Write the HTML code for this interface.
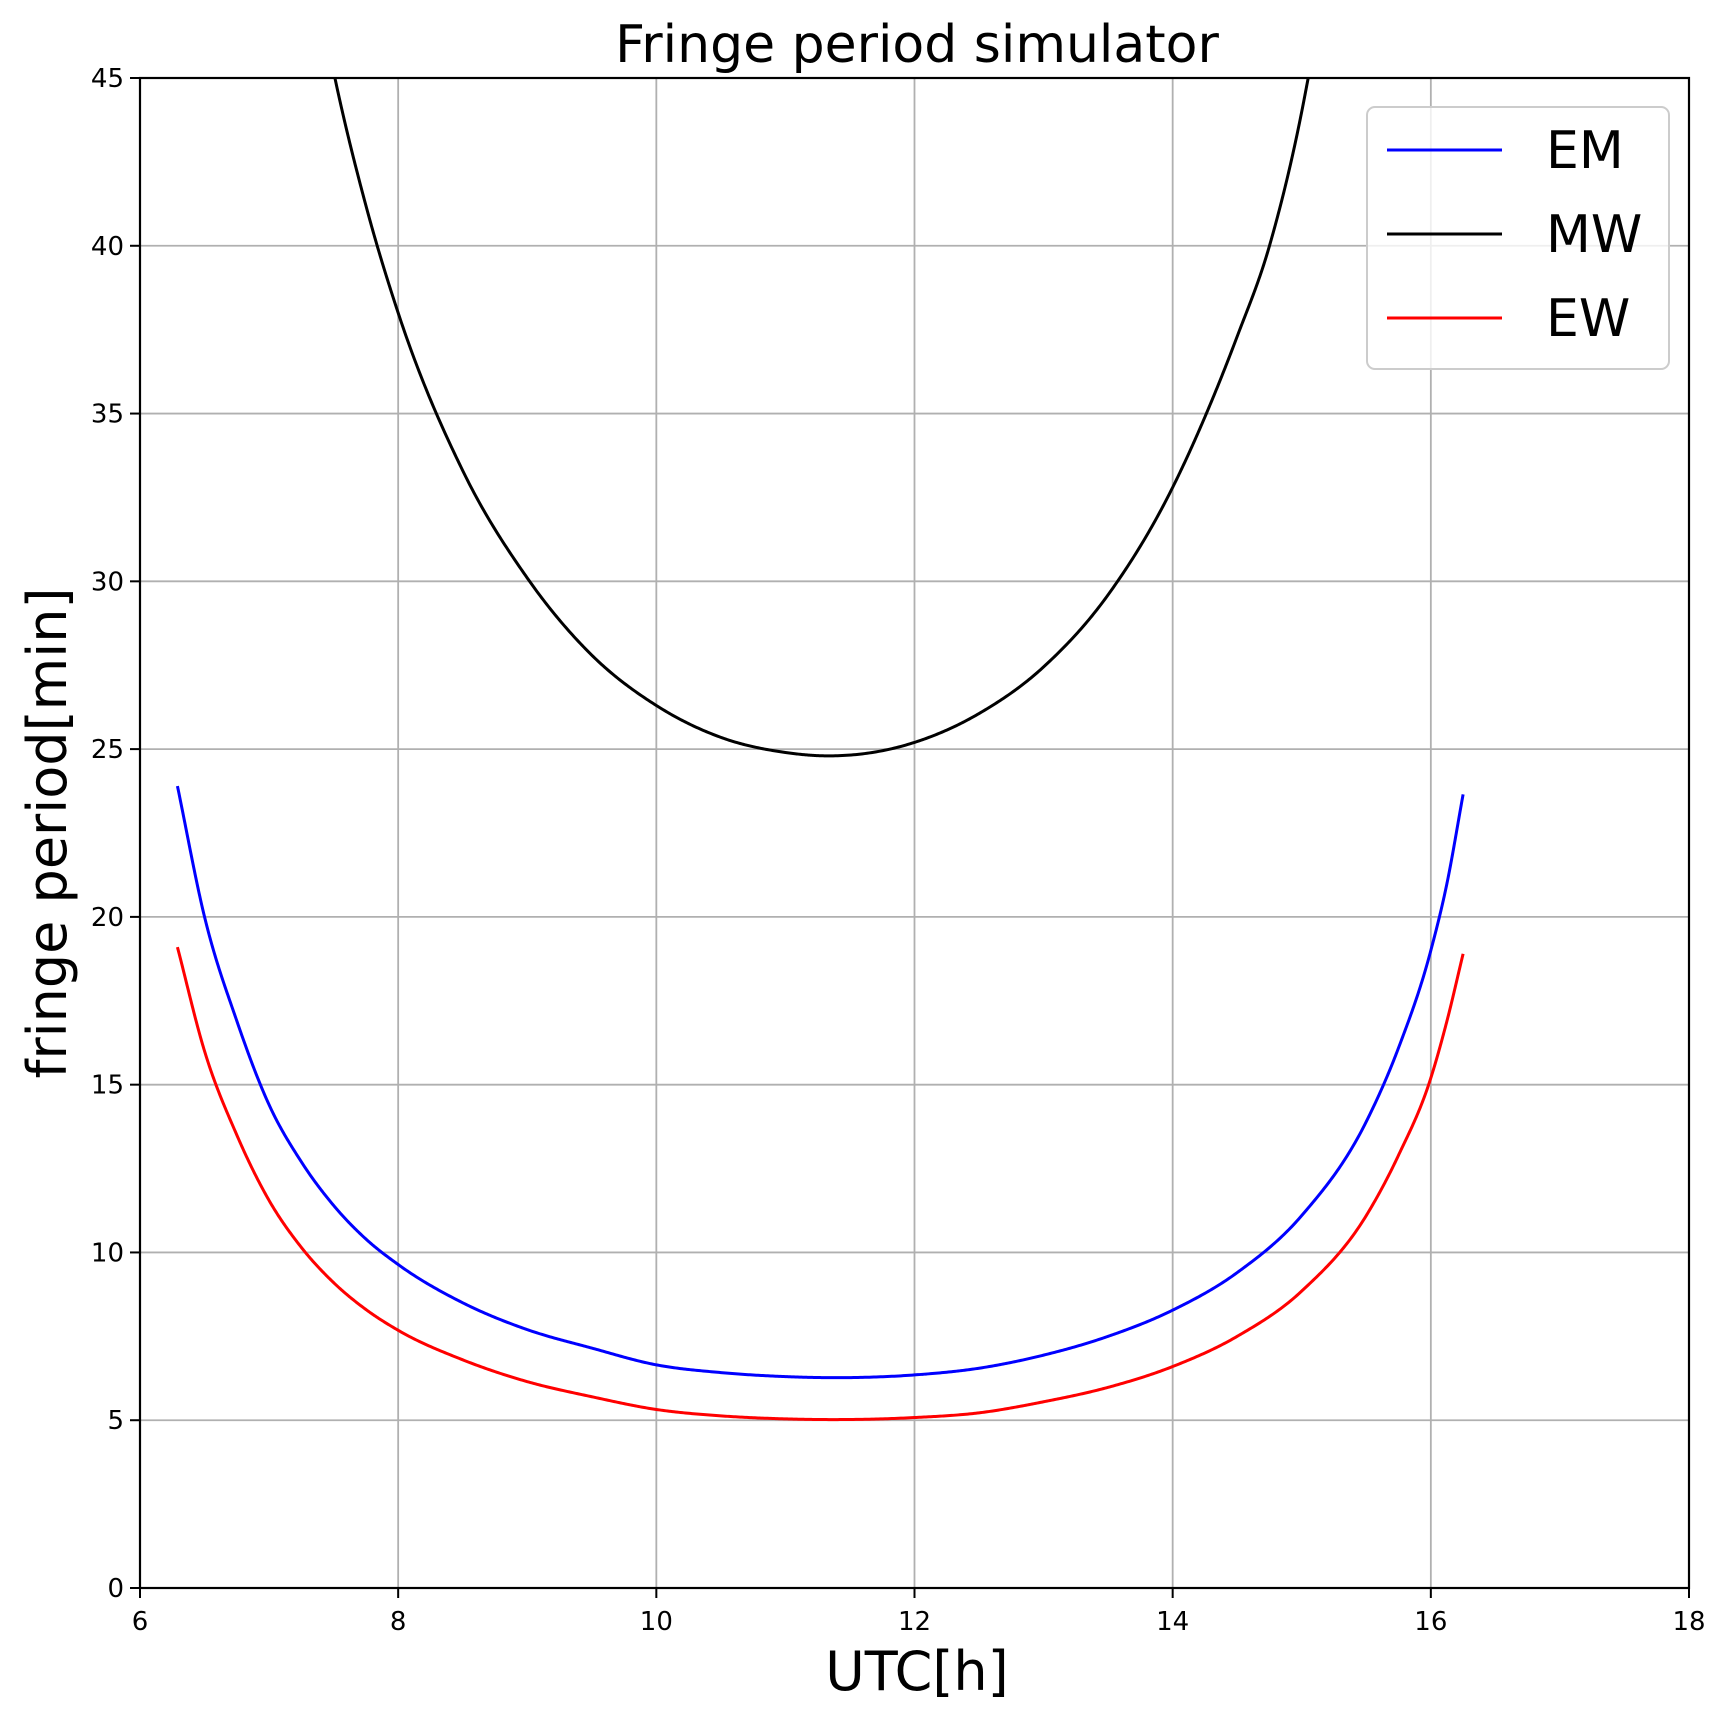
<!DOCTYPE html>
<html><head><meta charset="utf-8"><style>
body{margin:0;background:#fff}
svg{display:block;font-family:"DejaVu Sans","Liberation Sans",sans-serif}
</style></head><body>
<svg id="chart" width="1727" height="1721" viewBox="0 0 1727 1721" xmlns="http://www.w3.org/2000/svg">
<defs><clipPath id="plotclip"><rect x="140" y="78" width="1549" height="1510"/></clipPath></defs>
<rect width="1727" height="1721" fill="#fff"/>
<g id="grid"></g>
<g id="ticks"></g>
<g id="series" clip-path="url(#plotclip)"></g>
<rect x="140" y="78" width="1549" height="1510" fill="none" stroke="#000" stroke-width="2.2"/>
<text x="917" y="62" font-size="52" text-anchor="middle">Fringe period simulator</text>
<text x="917" y="1690" font-size="54" text-anchor="middle">UTC[h]</text>
<text x="0" y="0" font-size="54" text-anchor="middle" transform="translate(66,833) rotate(-90)">fringe period[min]</text>
<g>
<rect x="1367" y="107" width="302" height="262" rx="8" fill="#fff" fill-opacity="0.8" stroke="#ccc" stroke-width="2"/>
<g><line x1="1387" y1="150" x2="1502" y2="150" stroke="#0000ff" stroke-width="3"/><text x="1546" y="168" font-size="52">EM</text></g>
<g><line x1="1387" y1="234" x2="1502" y2="234" stroke="#000" stroke-width="3"/><text x="1546" y="252" font-size="52">MW</text></g>
<g><line x1="1387" y1="318" x2="1502" y2="318" stroke="#ff0000" stroke-width="3"/><text x="1546" y="336" font-size="52">EW</text></g>
</g>
</svg>
<script>
const xTicks=[6,8,10,12,14,16,18];
const yTicks=[0,5,10,15,20,25,30,35,40,45];
const mwX=[7.4,7.51,7.75,8,8.5,9,9.5,10,10.5,11,11.3,12,12.5,13,13.5,14,14.25,14.5,14.75,15,15.05,15.2];
const mwY=[47.1,45,41.2,38,33.3,30.1,27.8,26.3,25.35,24.9,24.8,25.2,26.06,27.45,29.6,32.8,34.9,37.3,40,44,45,48];
const emX=[6.29,6.5,6.75,7,7.25,7.5,7.75,8,8.5,9,9.5,10,10.5,11,11.3,12,12.5,13,13.5,14,14.5,15,15.5,15.75,16,16.125,16.25];
const emY=[23.9,20,16.9,14.4,12.7,11.4,10.4,9.64,8.5,7.7,7.15,6.65,6.42,6.3,6.27,6.35,6.55,6.94,7.5,8.28,9.4,11.1,13.9,16.1,19,21,23.65];
const ewX=[6.29,6.5,6.75,7,7.25,7.5,7.75,8,8.5,9,9.5,10,10.5,11,11.3,12,12.5,13,13.5,14,14.5,15,15.5,15.75,16,16.125,16.25];
const ewY=[19.1,16,13.5,11.55,10.15,9.1,8.3,7.68,6.8,6.15,5.7,5.32,5.13,5.04,5.02,5.08,5.22,5.55,5.98,6.6,7.5,8.85,11.1,12.9,15.2,16.9,18.9];
const X0=140,X1=1689,Y0=1588,Y1=78;
const sx=v=>X0+(v-6)/12*(X1-X0);
const sy=v=>Y0-v/45*(Y0-Y1);
const NS='http://www.w3.org/2000/svg';
const grid=document.getElementById('grid'),ticks=document.getElementById('ticks'),series=document.getElementById('series');
function mk(tag,attrs,parent){const e=document.createElementNS(NS,tag);for(const k in attrs)e.setAttribute(k,attrs[k]);parent.appendChild(e);return e;}
xTicks.forEach(t=>{
  const x=sx(t);
  const g=mk('line',{x1:x,x2:x,y1:Y1,y2:Y0,stroke:'#b0b0b0','stroke-width':1.8},grid);
  
  
  const tk=mk('line',{x1:x,x2:x,y1:Y0,y2:Y0+10,stroke:'#000','stroke-width':2},ticks);
  
  
  const tx=mk('text',{x:x,y:Y0+42,'font-size':26,'text-anchor':'middle'},ticks);
  tx.textContent=t;
  
  
});
yTicks.forEach(t=>{
  const y=sy(t);
  const g=mk('line',{x1:X0,x2:X1,y1:y,y2:y,stroke:'#b0b0b0','stroke-width':1.8},grid);
  
  
  const tk=mk('line',{x1:X0-10,x2:X0,y1:y,y2:y,stroke:'#000','stroke-width':2},ticks);
  
  
  const tx=mk('text',{x:X0-16,y:y+9,'font-size':26,'text-anchor':'end'},ticks);
  tx.textContent=t;
  
  
});
function smooth(xs,ys){
  const n=xs.length,m=[];
  for(let i=0;i<n;i++){
    if(i===0)m.push((ys[1]-ys[0])/(xs[1]-xs[0]));
    else if(i===n-1)m.push((ys[n-1]-ys[n-2])/(xs[n-1]-xs[n-2]));
    else{
      const h0=xs[i]-xs[i-1],h1=xs[i+1]-xs[i];
      const d0=(ys[i]-ys[i-1])/h0,d1=(ys[i+1]-ys[i])/h1;
      m.push((d0*h1+d1*h0)/(h0+h1));
    }
  }
  let pts=[];
  for(let i=0;i<n-1;i++){
    const h=xs[i+1]-xs[i],steps=40;
    for(let k=0;k<=steps;k++){
      if(i>0&&k===0)continue;
      const t=k/steps,t2=t*t,t3=t2*t;
      const y=(2*t3-3*t2+1)*ys[i]+(t3-2*t2+t)*h*m[i]+(-2*t3+3*t2)*ys[i+1]+(t3-t2)*h*m[i+1];
      pts.push(sx(xs[i]+t*h).toFixed(2)+','+sy(y).toFixed(2));
    }
  }
  return 'M'+pts.join(' L');
}
[[mwX,mwY,'#000','mw-line'],[emX,emY,'#0000ff','em-line'],[ewX,ewY,'#ff0000','ew-line']].forEach(s=>{
  const p=mk('path',{d:smooth(s[0],s[1]),fill:'none',stroke:s[2],'stroke-width':3,'stroke-linejoin':'round'},series);
  
  
});
</script>
</body></html>
